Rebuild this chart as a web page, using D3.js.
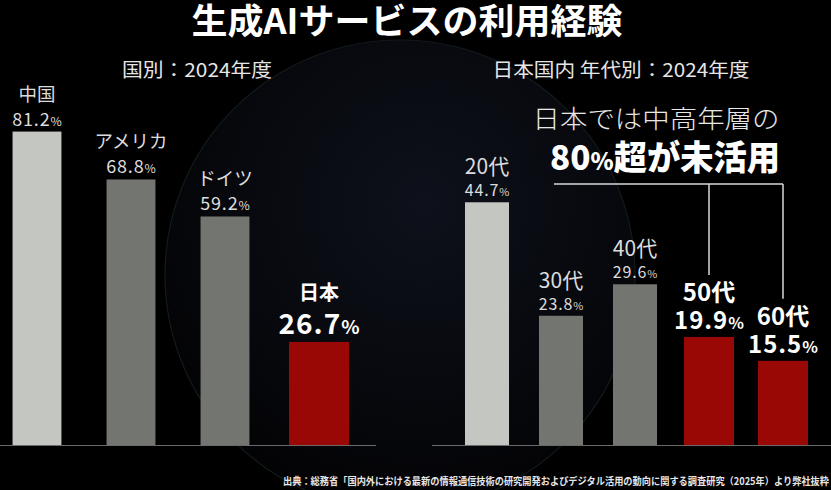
<!DOCTYPE html>
<html><head><meta charset="utf-8">
<script src="https://cdn.jsdelivr.net/npm/d3@7"></script>
<style>
html,body{margin:0;padding:0;background:#000;}
svg{display:block;font-family:"Noto Sans CJK JP","Noto Sans",sans-serif;}
</style></head>
<body>
<svg id="c" width="831" height="490"></svg>
<script>
const title = "生成AIサービスの利用経験";
const leftSubtitle = "国別：2024年度";
const rightSubtitle = "日本国内 年代別：2024年度";
const leftCategories = ["中国","アメリカ","ドイツ","日本"];
const leftValues = [81.2, 68.8, 59.2, 26.7];
const leftHighlight = ["日本"];
const rightCategories = ["20代","30代","40代","50代","60代"];
const rightValues = [44.7, 23.8, 29.6, 19.9, 15.5];
const rightHighlight = ["50代","60代"];
const noteLine1 = "日本では中高年層の";
const noteLine2a = "80";
const noteLine2b = "%";
const noteLine2c = "超が未活用";
const footnote = "出典：総務省「国内外における最新の情報通信技術の研究開発およびデジタル活用の動向に関する調査研究（2025年）より弊社抜粋";

const svg = d3.select("#c");
const W = 831, H = 490, baseY = 445;

// background
const defs = svg.append("defs");
const rg = defs.append("radialGradient").attr("id","globe").attr("cx","55%").attr("cy","35%").attr("r","65%");
rg.append("stop").attr("offset","0%").attr("stop-color","#0e111b");
rg.append("stop").attr("offset","75%").attr("stop-color","#06070b");
rg.append("stop").attr("offset","100%").attr("stop-color","#030305");
svg.append("rect").attr("width",W).attr("height",H).attr("fill","#000");
svg.append("circle").attr("cx",400).attr("cy",275).attr("r",235).attr("fill","url(#globe)")
  .attr("stroke","#121b1c").attr("stroke-width",1.2);

// title
svg.append("text").attr("x",407).attr("y",34).attr("text-anchor","middle")
  .attr("fill","#fff").attr("font-size",35).attr("font-weight",700)
  .attr("textLength",431).attr("lengthAdjust","spacingAndGlyphs").text(title);

svg.append("text").attr("x",197).attr("y",77).attr("text-anchor","middle")
  .attr("fill","#e6e6e6").attr("font-size",19)
  .attr("textLength",150).attr("lengthAdjust","spacingAndGlyphs").text(leftSubtitle);
svg.append("text").attr("x",621).attr("y",77).attr("text-anchor","middle")
  .attr("fill","#e6e6e6").attr("font-size",19)
  .attr("textLength",257).attr("lengthAdjust","spacingAndGlyphs").text(rightSubtitle);

function panel(cats, vals, hl, cfg){
  const x = d3.scaleBand().domain(cats).range(cfg.xr).paddingInner(cfg.pad).paddingOuter(cfg.pad/2);
  const y = d3.scaleLinear().domain([0,100]).range([baseY, baseY - cfg.pxPer100]);
  const g = svg.append("g");
  const data = cats.map((c,i)=>({c, v: vals[i], i, h: hl.includes(c)}));
  const cx = d => x(d.c) + x.bandwidth()/2;
  const bw = d => d.h ? cfg.hlWidth : x.bandwidth();
  g.selectAll("rect.bar").data(data).join("rect").attr("class","bar")
    .attr("x", d => cx(d) - bw(d)/2).attr("width", bw)
    .attr("y", d => y(d.v)).attr("height", d => y(0) - y(d.v))
    .attr("fill", d => d.h ? "#9a0806" : (d.i===0 ? "#c4c6c1" : "#737570"));
  g.append("line").attr("x1",cfg.line[0]).attr("x2",cfg.line[1]).attr("y1",baseY+0.5).attr("y2",baseY+0.5)
    .attr("stroke","#6a6a6a").attr("stroke-width",1.2);
  data.forEach(d => {
    const top = y(d.v);
    if (d.h) {
      g.append("text").attr("x",cx(d)).attr("y",top - cfg.hlNameOff).attr("text-anchor","middle")
        .attr("fill","#fff").attr("font-weight",700).attr("font-size",cfg.hlNameSize).text(d.c);
      const t = g.append("text").attr("x",cx(d)).attr("y",top - cfg.hlValOff).attr("text-anchor","middle")
        .attr("fill","#fff").attr("font-weight",700);
      t.append("tspan").attr("font-size",cfg.hlValSize).attr("letter-spacing",1).text(d.v.toFixed(1));
      t.append("tspan").attr("font-size",cfg.hlValSize*0.68).text("%");
    } else {
      g.append("text").attr("x",cx(d)).attr("y",top - cfg.nameOff).attr("text-anchor","middle")
        .attr("fill","#dcdcdc").attr("font-size",cfg.nameSize).text(d.c);
      const t = g.append("text").attr("x",cx(d)).attr("y",top - cfg.valOff).attr("text-anchor","middle")
        .attr("fill","#dcdcdc");
      t.append("tspan").attr("font-size",cfg.valSize).attr("letter-spacing",0.8).text(d.v.toFixed(1));
      t.append("tspan").attr("font-size",cfg.valSize*0.68).text("%");
    }
  });
  return {x, y, data, cx};
}

panel(leftCategories, leftValues, leftHighlight, {
  xr:[-10,366], pad:0.48, pxPer100:386, hlWidth:60, line:[0,376],
  nameOff:31, nameSize:18.5, valOff:6, valSize:18,
  hlNameOff:42, hlNameSize:20, hlValOff:8, hlValSize:28
});
const R = panel(rightCategories, rightValues, rightHighlight, {
  xr:[450,820], pad:0.405, pxPer100:543, hlWidth:50, line:[432,831],
  nameOff:28, nameSize:21, valOff:6, valSize:16,
  hlNameOff:36, hlNameSize:24, hlValOff:8, hlValSize:24
});

// annotation
svg.append("text").attr("x",656).attr("y",128).attr("text-anchor","middle")
  .attr("fill","#e8e8e8").attr("font-size",25).attr("font-weight",300)
  .attr("textLength",247).attr("lengthAdjust","spacingAndGlyphs").text(noteLine1);
const n2 = svg.append("text").attr("x",665).attr("y",170).attr("text-anchor","middle")
  .attr("fill","#fff").attr("font-weight",900)
  .attr("textLength",230).attr("lengthAdjust","spacingAndGlyphs");
n2.append("tspan").attr("font-size",34).text(noteLine2a);
n2.append("tspan").attr("font-size",24).text(noteLine2b);
n2.append("tspan").attr("font-size",34).text(noteLine2c);

const hlData = R.data.filter(d => d.h);
const bracketY = 184;
svg.append("line").attr("x1",554).attr("x2",R.cx(hlData[hlData.length-1])).attr("y1",bracketY).attr("y2",bracketY)
  .attr("stroke","#d8d8d8").attr("stroke-width",1.5);
svg.selectAll("line.vb").data(hlData).join("line").attr("class","vb")
  .attr("x1",d=>R.cx(d)).attr("x2",d=>R.cx(d)).attr("y1",bracketY)
  .attr("y2",d=>R.y(d.v) - 62)
  .attr("stroke","#d8d8d8").attr("stroke-width",1.5);

// footnote
svg.append("text").attr("x",829).attr("y",485).attr("text-anchor","end")
  .attr("fill","#e6e6e6").attr("font-size",10).attr("font-weight",700)
  .attr("textLength",546).attr("lengthAdjust","spacingAndGlyphs").text(footnote);
</script>
</body></html>
